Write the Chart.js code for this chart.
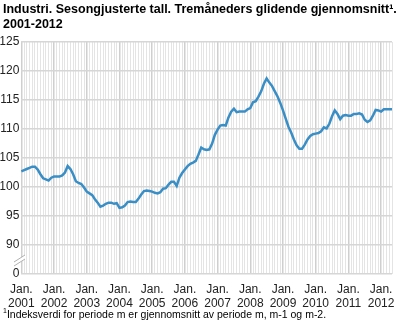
<html lang="no">
<head>
<meta charset="utf-8">
<script src="https://cdn.jsdelivr.net/npm/chart.js@4.4.0/dist/chart.umd.min.js"></script>
<title>Industri - tremåneders glidende gjennomsnitt</title>
<style>
    body { margin:0; background:#fff; font-family:"Liberation Sans", Arial, sans-serif; }
    #wrap { position:relative; width:400px; height:320px; overflow:hidden; }
    #title {
        position:absolute; left:3px; top:2px; white-space:nowrap;
        font-weight:bold; font-size:12.5px; line-height:15px; color:#000;
    }
    #note {
        position:absolute; left:3px; top:307px; white-space:nowrap;
        font-size:10.5px; color:#000;
    }
    #note sup { font-size:7px; }
    canvas { position:absolute; left:0; top:0; }
</style>
</head>
<body>
<div id="wrap">
    <canvas id="chart" width="400" height="320"></canvas>
    <div id="title">Industri. Sesongjusterte tall. Tremåneders glidende gjennomsnitt¹.<br>2001-2012</div>
    <div id="note"><sup>1</sup>Indeksverdi for periode m er gjennomsnitt av periode m, m-1 og m-2.</div>
</div>
<script>
    // monthly values, jan 2001 - may 2012
    const years = [2001,2002,2003,2004,2005,2006,2007,2008,2009,2010,2011,2012];
    const y2001 = [102.7,102.9,103.1,103.3,103.5,103.5,103.0,102.2,101.5,101.3,101.1,101.6];
    const y2002 = [101.8,101.8,101.8,102.0,102.5,103.6,103.1,102.2,101.0,100.7,100.5,99.9];
    const y2003 = [99.2,98.9,98.6,97.9,97.3,96.6,96.8,97.1,97.3,97.3,97.1,97.2];
    const y2004 = [96.4,96.5,96.8,97.4,97.5,97.4,97.4,98.0,98.7,99.3,99.4,99.3];
    const y2005 = [99.2,99.0,98.9,99.1,99.7,99.8,100.4,100.9,100.9,100.2,101.6,102.4];
    const y2006 = [103.0,103.6,104.0,104.2,104.5,105.6,106.8,106.5,106.4,106.5,107.5,109.0];
    const y2007 = [109.9,110.6,110.7,110.6,112.0,113.0,113.5,112.9,113.0,113.0,113.0,113.4];
    const y2008 = [113.6,114.6,114.8,115.6,116.5,117.8,118.7,118.0,117.4,116.5,115.6,114.5];
    const y2009 = [113.2,111.8,110.4,109.4,108.2,107.2,106.6,106.6,107.3,108.2,108.8,109.1];
    const y2010 = [109.2,109.3,109.6,110.3,110.1,110.9,112.2,113.2,112.6,111.7,112.3,112.4];
    const y2011 = [112.3,112.3,112.6,112.6,112.7,112.5,111.6,111.2,111.5,112.3,113.3,113.2];
    const y2012 = [113.0,113.4,113.4,113.4,113.4];
    const yTicks = [85,90,95,100,105,110,115,120,125];

    var values = [].concat(y2001,y2002,y2003,y2004,y2005,y2006,y2007,y2008,y2009,y2010,y2011,y2012);
    var labels = [];
    for (var i=0;i<values.length;i++) {
        labels.push(years[Math.floor(i/12)] + "-" + (i%12+1));
    }

    // the little "//" on the y axis, since it starts at 85 not 0
    const axisBreak = {
        id: "axisBreak",
        afterDraw(chart) {
            var c = chart.ctx;
            c.save();
            c.fillStyle = "#fff";
            c.beginPath();
            c.moveTo(14,262); c.lineTo(25,255); c.lineTo(25,259); c.lineTo(14,266);
            c.closePath();
            c.fill();
            c.strokeStyle = "#b0b0b0";
            c.lineWidth = 1;
            c.beginPath();
            c.moveTo(14,262); c.lineTo(25,255);
            c.moveTo(14,266); c.lineTo(25,259);
            c.stroke();
            c.restore();
        }
    };

    new Chart("chart", {
        type: "line",
        data: {
            labels: labels,
            datasets: [{
                data: values,
                borderColor: "#3a8ec6",
                borderWidth: 2.5,
                pointRadius: 0,
                tension: 0,
                fill: false
            }]
        },
        options: {
            responsive: false,
            animation: false,
            layout: { padding: { left:0, right:6, top:42, bottom:6 } },
            plugins: { legend: {display:false}, tooltip: {enabled:false} },
            scales: {
                x: {
                    type: "category",
                    offset: false,
                    afterFit(s) { s.height = 40; },
                    border: { display:false },
                    grid: {
                        drawTicks: false,
                        color: function(ctx) { return ctx.index % 12 == 0 ? "#cfcfcf" : "#e4e4e4"; },
                        lineWidth: function(ctx) { return ctx.index % 12 == 0 ? 1.5 : 1; }
                    },
                    ticks: {
                        autoSkip: false,
                        maxRotation: 0,
                        padding: 8,
                        color: "#222",
                        font: { family:"Liberation Sans", size:12 },
                        callback: function(v, i) {
                            return i % 12 == 0 ? ["Jan.", String(years[i/12])] : "";
                        }
                    }
                },
                y: {
                    min: 85,
                    max: 125,
                    afterFit(s) { s.width = 21; },
                    afterBuildTicks(s) { s.ticks = yTicks.map(function(v){ return {value:v}; }); },
                    border: { display:false },
                    grid: { drawTicks:false, color:"#d6d6d6", lineWidth:1.5 },
                    ticks: {
                        padding: 2,
                        color: "#222",
                        font: { family:"Liberation Sans", size:12 },
                        callback: function(v) { return v == 85 ? "0" : v; }
                    }
                }
            }
        },
        plugins: [axisBreak]
    });
</script>
</body>
</html>
